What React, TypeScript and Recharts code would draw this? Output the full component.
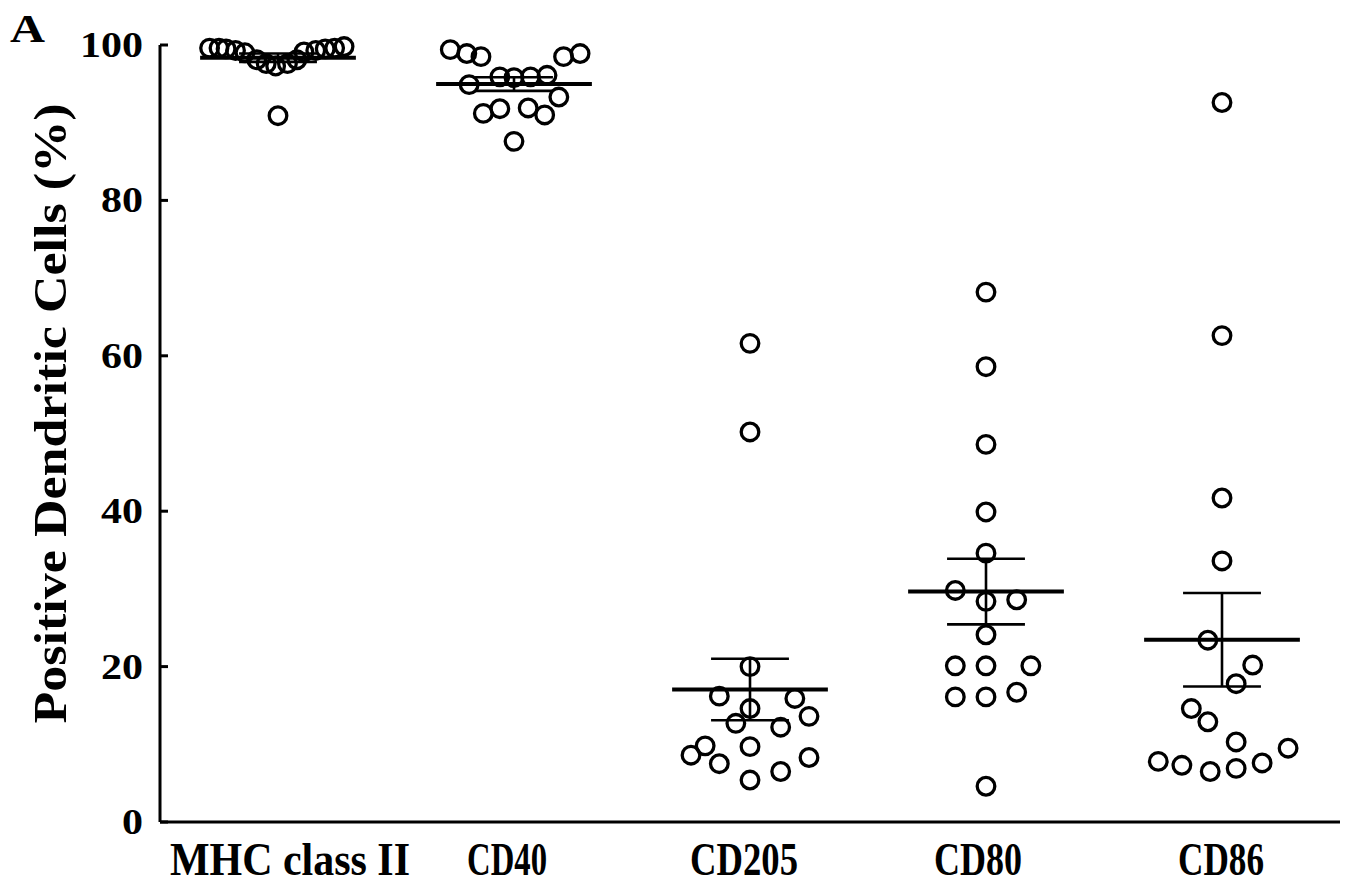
import React from 'react';
import { ScatterChart, Scatter, XAxis, YAxis, ReferenceLine } from 'recharts';

const categories = ['MHC class II', 'CD40', 'CD205', 'CD80', 'CD86'];
const categoryPos = [0.5, 1.5, 2.5, 3.5, 4.5];
const yTicks = [0, 20, 40, 60, 80, 100];

// % positive dendritic cells per sample, plus horizontal spread of each dot
const mhcII = [99.6, 99.6, 99.5, 99.3, 99.0, 98.1, 97.6, 97.3, 97.6, 98.1, 99.1, 99.3, 99.5, 99.6, 99.8, 90.9];
const mhcIISpread = [-0.29, -0.25, -0.22, -0.18, -0.14, -0.09, -0.05, -0.01, 0.04, 0.08, 0.11, 0.16, 0.2, 0.24, 0.28, 0];

const cd40 = [99.4, 98.9, 98.5, 98.5, 98.9, 94.9, 95.9, 95.8, 95.9, 96.1, 93.3, 91.2, 91.8, 91.9, 91.0, 87.6];
const cd40Spread = [-0.27, -0.2, -0.14, 0.21, 0.28, -0.19, -0.06, 0, 0.07, 0.14, 0.19, -0.13, -0.06, 0.06, 0.13, 0];

const cd205 = [61.6, 50.2, 20.0, 16.2, 15.9, 14.6, 13.6, 12.7, 12.2, 9.8, 9.7, 8.6, 8.3, 7.5, 6.5, 5.4];
const cd205Spread = [0, 0, 0, -0.13, 0.19, 0, 0.25, -0.06, 0.13, -0.19, 0, -0.25, 0.25, -0.13, 0.13, 0];

const cd80 = [68.2, 58.6, 48.6, 39.9, 34.6, 29.8, 28.4, 28.6, 24.1, 20.1, 20.1, 20.1, 16.1, 16.1, 16.7, 4.6];
const cd80Spread = [0, 0, 0, 0, 0, -0.13, 0, 0.13, 0, -0.13, 0, 0.19, -0.13, 0, 0.13, 0];

const cd86 = [92.6, 62.6, 41.7, 33.6, 23.4, 20.2, 17.8, 14.6, 12.9, 10.3, 9.5, 7.8, 7.3, 6.5, 6.9, 7.6];
const cd86Spread = [0, 0, 0, 0, -0.06, 0.13, 0.06, -0.13, -0.06, 0.06, 0.28, -0.27, -0.17, -0.05, 0.06, 0.17];

const groups = [
  { values: mhcII, spread: mhcIISpread },
  { values: cd40, spread: cd40Spread },
  { values: cd205, spread: cd205Spread },
  { values: cd80, spread: cd80Spread },
  { values: cd86, spread: cd86Spread },
];

const FONT = '"Liberation Serif", "Times New Roman", serif';
const MEAN_HALF = 0.33;
const CAP_HALF = 0.165;
const labelShift = [12, -7, -6, -8, -1];
const labelWidth = [240, 80, 108, 88, 86];

function meanSem(vals: number[]) {
  const n = vals.length;
  const mean = vals.reduce((a, b) => a + b, 0) / n;
  const sd = Math.sqrt(vals.reduce((a, v) => a + (v - mean) ** 2, 0) / (n - 1));
  return { mean, sem: sd / Math.sqrt(n) };
}

const Ring = (props: any) => (
  <circle cx={props.cx} cy={props.cy} r={8.8} fill="none" stroke="#000" strokeWidth={3.3} />
);

const YTick = ({ x, y, payload }: any) => {
  const label = String(payload.value);
  return (
    <g>
      <line x1={x + 8} x2={x + 16} y1={y} y2={y} stroke="#000" strokeWidth={3} />
      <text
        x={x - 9}
        y={y + 12}
        textAnchor="end"
        fontFamily={FONT}
        fontWeight="bold"
        fontSize={35}
        textLength={label.length * 21}
        lengthAdjust="spacingAndGlyphs"
      >
        {label}
      </text>
    </g>
  );
};

const XTick = ({ x, y, payload }: any) => {
  const i = categoryPos.indexOf(payload.value);
  if (i < 0) return null;
  return (
    <text
      x={x + labelShift[i]}
      y={y + 45}
      textAnchor="middle"
      fontFamily={FONT}
      fontWeight="bold"
      fontSize={46}
      textLength={labelWidth[i]}
      lengthAdjust="spacingAndGlyphs"
    >
      {categories[i]}
    </text>
  );
};

const AxisTitle = ({ viewBox }: any) => {
  const vb = viewBox ?? { x: 0, y: 45, width: 160, height: 777 };
  const cy = vb.y + vb.height / 2 - 20;
  return (
    <g>
      <text
        transform={`translate(${vb.x + 66},${cy}) rotate(-90)`}
        textAnchor="middle"
        fontFamily={FONT}
        fontWeight="bold"
        fontSize={46}
        textLength={620}
        lengthAdjust="spacingAndGlyphs"
      >
        Positive Dendritic Cells (%)
      </text>
      <text
        x={vb.x + 10}
        y={vb.y - 3}
        fontFamily={FONT}
        fontWeight="bold"
        fontSize={41}
        textLength={35}
        lengthAdjust="spacingAndGlyphs"
      >
        A
      </text>
    </g>
  );
};

export default function App() {
  const stats = groups.map((g) => meanSem(g.values));

  return (
    <div style={{ width: 1352, height: 885, background: '#fff' }}>
      <style>{'body{margin:0}'}</style>
      <ScatterChart width={1352} height={885} margin={{ top: 45, right: 12, bottom: 0, left: 0 }}>
        <XAxis
          type="number"
          dataKey="x"
          domain={[0, 5]}
          ticks={categoryPos}
          tick={<XTick />}
          tickLine={false}
          axisLine={{ stroke: '#000', strokeWidth: 3 }}
          height={63}
          interval={0}
        />
        <YAxis
          type="number"
          dataKey="y"
          domain={[0, 100]}
          ticks={yTicks}
          tick={<YTick />}
          tickLine={false}
          axisLine={{ stroke: '#000', strokeWidth: 3 }}
          width={160}
          interval={0}
          label={{ content: (p: any) => <AxisTitle viewBox={p.viewBox} /> }}
        />
        {groups.map((g, i) => (
          <Scatter
            key={categories[i]}
            name={categories[i]}
            data={g.values.map((v, j) => ({ x: categoryPos[i] + g.spread[j], y: v }))}
            shape={Ring}
            isAnimationActive={false}
          />
        ))}
        {stats.map((s, i) => {
          const c = categoryPos[i];
          const hi = s.mean + s.sem;
          const lo = s.mean - s.sem;
          return [
            <ReferenceLine
              key={`mean-${i}`}
              segment={[{ x: c - MEAN_HALF, y: s.mean }, { x: c + MEAN_HALF, y: s.mean }]}
              stroke="#000"
              strokeWidth={4}
              ifOverflow="visible"
            />,
            <ReferenceLine
              key={`sem-${i}`}
              segment={[{ x: c, y: lo }, { x: c, y: hi }]}
              stroke="#000"
              strokeWidth={2.6}
              ifOverflow="visible"
            />,
            <ReferenceLine
              key={`cap-hi-${i}`}
              segment={[{ x: c - CAP_HALF, y: hi }, { x: c + CAP_HALF, y: hi }]}
              stroke="#000"
              strokeWidth={2.6}
              ifOverflow="visible"
            />,
            <ReferenceLine
              key={`cap-lo-${i}`}
              segment={[{ x: c - CAP_HALF, y: lo }, { x: c + CAP_HALF, y: lo }]}
              stroke="#000"
              strokeWidth={2.6}
              ifOverflow="visible"
            />,
          ];
        })}
      </ScatterChart>
    </div>
  );
}
